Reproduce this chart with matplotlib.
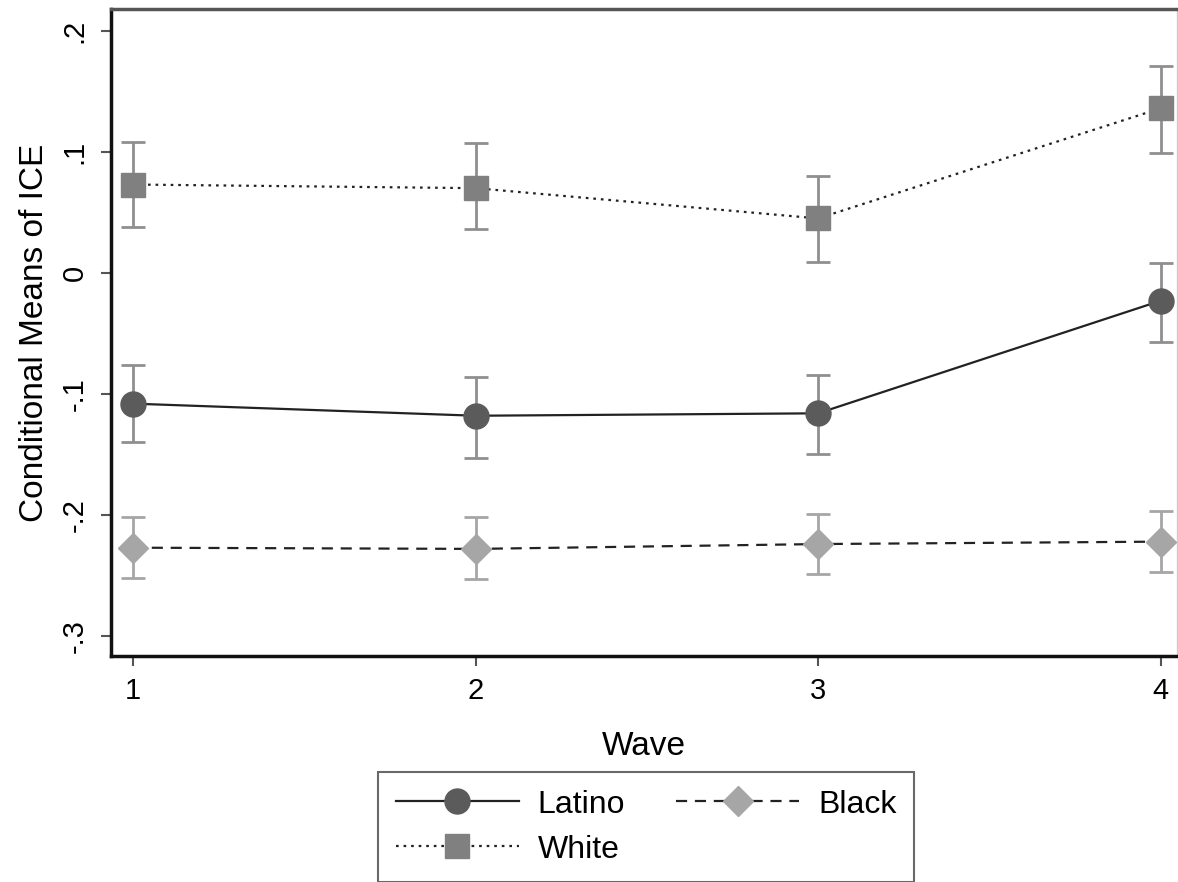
"""Conditional means of ICE by wave, by race/ethnicity group."""

import matplotlib.pyplot as plt

plt.rcParams["font.family"] = ["Liberation Sans", "DejaVu Sans"]

waves = [1, 2, 3, 4]

latino_mean = [-0.108, -0.118, -0.116, -0.023]
latino_lo = [-0.140, -0.153, -0.150, -0.057]
latino_hi = [-0.076, -0.086, -0.084, 0.008]

black_mean = [-0.227, -0.228, -0.224, -0.222]
black_lo = [-0.252, -0.253, -0.249, -0.247]
black_hi = [-0.202, -0.202, -0.199, -0.197]

white_mean = [0.073, 0.070, 0.045, 0.136]
white_lo = [0.038, 0.036, 0.009, 0.099]
white_hi = [0.108, 0.107, 0.080, 0.171]

y_ticks = [-0.3, -0.2, -0.1, 0.0, 0.1, 0.2]
y_tick_labels = ["-.3", "-.2", "-.1", "0", ".1", ".2"]


def fmt_err(mean, lo, hi):
    return [[m - l for m, l in zip(mean, lo)], [h - m for m, h in zip(mean, hi)]]


def main() -> None:
    fig = plt.figure(figsize=(11.78, 8.82), dpi=100)
    ax = fig.add_axes([0.0942, 0.2562, 0.9048, 0.7336])

    series = [
        ("Latino", latino_mean, latino_lo, latino_hi, "o", 18, "#5b5b5b", "-", "#8f8f8f"),
        ("White", white_mean, white_lo, white_hi, "s", 17, "#808080", (0, (1.2, 2.2)), "#8f8f8f"),
        ("Black", black_mean, black_lo, black_hi, "D", 15, "#a6a6a6", (0, (5, 3.5)), "#a6a6a6"),
    ]
    handles = []
    for name, mean, lo, hi, marker, ms, mcolor, ls, ecolor in series:
        ax.errorbar(waves, mean, yerr=fmt_err(mean, lo, hi), fmt="none",
                    ecolor=ecolor, elinewidth=2, capsize=8.5, capthick=2, zorder=2)
        (line,) = ax.plot(waves, mean, linestyle=ls, color="#222222", linewidth=1.6,
                          marker=marker, markersize=ms, markerfacecolor=mcolor,
                          markeredgecolor=mcolor, zorder=3, label=name)
        handles.append(line)

    ax.set_xlim(0.936, 4.047)
    ax.set_ylim(-0.3165, 0.218)
    ax.set_xticks(waves)
    ax.set_yticks(y_ticks)
    ax.set_yticklabels(y_tick_labels, rotation=90, va="center")
    ax.tick_params(axis="both", direction="out", length=7, width=1.5, color="#555555",
                   labelsize=21)
    ax.tick_params(axis="x", pad=8)
    ax.tick_params(axis="y", pad=9)

    for side in ("left", "bottom"):
        ax.spines[side].set_linewidth(2.5)
        ax.spines[side].set_color("#111111")
    ax.spines["top"].set_linewidth(2.5)
    ax.spines["top"].set_color("#555555")
    ax.spines["right"].set_linewidth(1)
    ax.spines["right"].set_color("#cccccc")

    ax.set_xlabel("Wave", fontsize=24, labelpad=19)
    ax.set_ylabel("Conditional Means of ICE", fontsize=24, labelpad=8)

    leg = fig.legend(handles=handles, loc="upper left", bbox_to_anchor=(378 / 1178, 1 - 772 / 882),
                     ncol=2, fontsize=23, frameon=True, fancybox=False, handlelength=3.85,
                     columnspacing=1.6, handletextpad=0.6, borderpad=0.55, labelspacing=0.47,
                     borderaxespad=0)
    leg.get_frame().set_edgecolor("#444444")
    leg.get_frame().set_linewidth(1.5)

    fig.savefig("out.png", dpi=100, facecolor="white")
    plt.close(fig)


if __name__ == "__main__":
    main()
